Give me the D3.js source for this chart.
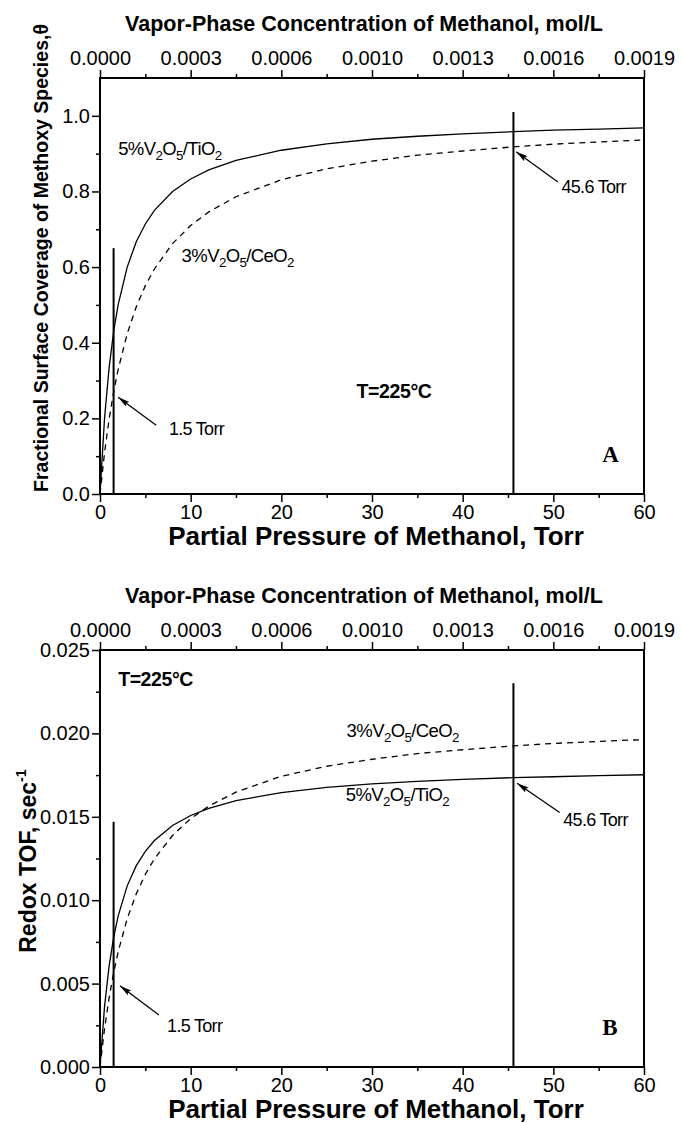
<!DOCTYPE html>
<html>
<head>
<meta charset="utf-8">
<script src="https://cdn.jsdelivr.net/npm/d3@7"></script>
<style>
  body { margin: 0; background: #fff; }
  svg { display: block; font-family: "Liberation Sans", Arial, sans-serif; }
</style>
</head>
<body>
<div id="chart"></div>
<script>
// values
const pressureTorr = [0, 0.5, 1, 1.5, 2, 3, 4, 5, 6, 8, 10, 12, 15, 20, 25, 30, 35, 40, 45.6, 50, 55, 60];
const coverageTiO2 = [0, 0.200, 0.333, 0.429, 0.500, 0.600, 0.667, 0.714, 0.750, 0.800, 0.833, 0.857, 0.882, 0.909, 0.926, 0.938, 0.946, 0.952, 0.958, 0.962, 0.965, 0.968];
const coverageCeO2 = [0, 0.109, 0.197, 0.269, 0.329, 0.424, 0.495, 0.551, 0.595, 0.662, 0.710, 0.746, 0.786, 0.831, 0.860, 0.880, 0.896, 0.907, 0.918, 0.925, 0.931, 0.936];
const tofTiO2 = [0, 0.00362, 0.00603, 0.00776, 0.00905, 0.01086, 0.01207, 0.01293, 0.01358, 0.01448, 0.01508, 0.01551, 0.01597, 0.01645, 0.01676, 0.01697, 0.01712, 0.01724, 0.01735, 0.01740, 0.01747, 0.01752];
const tofCeO2 = [0, 0.00229, 0.00413, 0.00564, 0.00690, 0.00889, 0.01038, 0.01155, 0.01248, 0.01388, 0.01489, 0.01564, 0.01648, 0.01743, 0.01803, 0.01845, 0.01879, 0.01902, 0.01925, 0.01940, 0.01952, 0.01963];

const pressureTicks = [0, 10, 20, 30, 40, 50, 60];
const pressureMinorTicks = [5, 15, 25, 35, 45, 55];
const concentrationLabels = ["0.0000", "0.0003", "0.0006", "0.0010", "0.0013", "0.0016", "0.0019"];
const coverageTicks = [0, 0.2, 0.4, 0.6, 0.8, 1.0];
const coverageMinorTicks = [0.1, 0.3, 0.5, 0.7, 0.9];
const tofTicks = [0, 0.005, 0.010, 0.015, 0.020, 0.025];
const tofMinorTicks = [0.0025, 0.0075, 0.0125, 0.0175, 0.0225];

const markerPressures = [1.5, 45.6];
const markerTopsCoverage = [0.65, 1.01];
const markerTopsTof = [0.0147, 0.023];

const width = 682, height = 1123;
const svg = d3.select("#chart").append("svg")
    .attr("width", width)
    .attr("height", height);

svg.append("defs").append("marker")
    .attr("id", "arrow")
    .attr("viewBox", "0 0 12 6")
    .attr("refX", 12).attr("refY", 3)
    .attr("markerWidth", 12).attr("markerHeight", 6)
    .attr("markerUnits", "userSpaceOnUse")
    .attr("orient", "auto")
    .append("path")
    .attr("d", "M0,0 L12,3 L0,6 L2,3 Z")
    .attr("fill", "#000");

const x = d3.scaleLinear().domain([0, 60]).range([100, 644]);

// writes "5%V_2O_5/TiO_2" with subscripts
function chemLabel(g, str, px, py, size) {
    const t = g.append("text").attr("x", px).attr("y", py)
        .attr("font-size", size).attr("letter-spacing", "-0.6px");
    const parts = str.split(/(_.)/).filter(s => s.length);
    let down = false;
    parts.forEach(s => {
        if (s[0] === "_") {
            t.append("tspan").attr("dy", down ? 0 : 5).attr("font-size", size * 0.72).text(s[1]);
            down = true;
        } else {
            t.append("tspan").attr("dy", down ? -5 : 0).text(s);
            down = false;
        }
    });
}

function drawPanel(p) {
    const y = d3.scaleLinear().domain(p.yDomain).range([p.bottom, p.top]);
    const g = svg.append("g");

    // axes: minor then major ticks
    const minorB = g.append("g").attr("transform", `translate(0,${p.bottom})`)
        .call(d3.axisBottom(x).tickValues(pressureMinorTicks).tickSize(4).tickFormat(""));
    const majorB = g.append("g").attr("transform", `translate(0,${p.bottom})`)
        .call(d3.axisBottom(x).tickValues(pressureTicks).tickSize(8).tickPadding(3).tickFormat(d3.format("d")));
    const minorT = g.append("g").attr("transform", `translate(0,${p.top})`)
        .call(d3.axisTop(x).tickValues(pressureMinorTicks).tickSize(4).tickFormat(""));
    const majorT = g.append("g").attr("transform", `translate(0,${p.top})`)
        .call(d3.axisTop(x).tickValues(pressureTicks).tickSize(8).tickPadding(5)
            .tickFormat((d, i) => concentrationLabels[i]));
    const minorL = g.append("g").attr("transform", `translate(${x(0)},0)`)
        .call(d3.axisLeft(y).tickValues(p.yMinor).tickSize(4).tickFormat(""));
    const majorL = g.append("g").attr("transform", `translate(${x(0)},0)`)
        .call(d3.axisLeft(y).tickValues(p.yTicks).tickSize(8).tickPadding(2).tickFormat(d3.format(p.yFormat)));

    [minorB, majorB, minorT, majorT, minorL, majorL].forEach(a => {
        a.select(".domain").remove();
        a.selectAll("line").attr("stroke", "#000").attr("stroke-width", 1.5);
        a.selectAll("text").attr("font-size", 20).attr("fill", "#000")
            .attr("font-family", "'Liberation Sans', Arial, sans-serif");
    });

    // frame
    g.append("rect")
        .attr("x", x(0)).attr("y", p.top)
        .attr("width", x(60) - x(0)).attr("height", p.bottom - p.top)
        .attr("fill", "none").attr("stroke", "#000").attr("stroke-width", 2);

    // curves
    const line = d3.line().x(d => x(d[0])).y(d => y(d[1]));
    g.append("path")
        .datum(pressureTorr.map((v, i) => [v, p.solid[i]]))
        .attr("d", line).attr("fill", "none").attr("stroke", "#000").attr("stroke-width", 1.3);
    g.append("path")
        .datum(pressureTorr.map((v, i) => [v, p.dashed[i]]))
        .attr("d", line).attr("fill", "none").attr("stroke", "#000").attr("stroke-width", 1.3)
        .attr("stroke-dasharray", "6,5");

    // vertical markers at 1.5 and 45.6 Torr
    g.selectAll("line.marker")
        .data(markerPressures)
        .enter().append("line")
        .attr("class", "marker")
        .attr("x1", d => x(d)).attr("x2", d => x(d))
        .attr("y1", y(0)).attr("y2", (d, i) => y(p.markerTops[i]))
        .attr("stroke", "#000").attr("stroke-width", 2);

    // arrows + labels
    p.arrows.forEach(a => {
        g.append("line")
            .attr("x1", x(a.from[0])).attr("y1", y(a.from[1]))
            .attr("x2", x(a.to[0])).attr("y2", y(a.to[1]))
            .attr("stroke", "#000").attr("stroke-width", 1.3)
            .attr("marker-end", "url(#arrow)");
        g.append("text")
            .attr("x", x(a.label[0])).attr("y", y(a.label[1]))
            .attr("font-size", 18).attr("letter-spacing", "-0.7px")
            .text(a.text);
    });

    p.chem.forEach(c => chemLabel(g, c.text, x(c.at[0]), y(c.at[1]), 18.5));

    g.append("text")
        .attr("x", x(p.temp[0])).attr("y", y(p.temp[1]))
        .attr("font-size", 19.5).attr("font-weight", "bold").attr("letter-spacing", "-0.4px")
        .text("T=225\u00B0C");

    g.append("text")
        .attr("x", x(55.4)).attr("y", y(p.letterY))
        .attr("font-family", "'Liberation Serif', 'Times New Roman', serif")
        .attr("font-size", 23).attr("font-weight", "bold")
        .text(p.letter);

    // titles
    g.append("text")
        .attr("x", 364).attr("y", p.top - 47)
        .attr("text-anchor", "middle")
        .attr("font-size", 21.5).attr("font-weight", "bold")
        .text("Vapor-Phase Concentration of Methanol, mol/L");
    g.append("text")
        .attr("x", 376).attr("y", p.bottom + 51)
        .attr("text-anchor", "middle")
        .attr("font-size", 26).attr("font-weight", "bold")
        .text("Partial Pressure of Methanol, Torr");

    const yt = g.append("text")
        .attr("transform", `translate(${p.yTitleX},${p.yTitleY}) rotate(-90)`)
        .attr("text-anchor", "middle")
        .attr("font-size", p.yTitleSize).attr("font-weight", "bold");
    yt.append("tspan").text(p.yTitle);
    if (p.yTitleSup) {
        yt.append("tspan").attr("dy", -10).attr("font-size", p.yTitleSize * 0.62).text(p.yTitleSup);
    }
}

drawPanel({
    top: 78, bottom: 494,
    yDomain: [0, 1.1],
    yTicks: coverageTicks, yMinor: coverageMinorTicks, yFormat: ".1f",
    solid: coverageTiO2, dashed: coverageCeO2,
    markerTops: markerTopsCoverage,
    arrows: [
        { from: [6.2, 0.182], to: [2.0, 0.256], label: [7.6, 0.156], text: "1.5 Torr" },
        { from: [50.5, 0.825], to: [45.9, 0.905], label: [50.9, 0.796], text: "45.6 Torr" }
    ],
    chem: [
        { text: "5%V_2O_5/TiO_2", at: [2.0, 0.896] },
        { text: "3%V_2O_5/CeO_2", at: [9.0, 0.613] }
    ],
    temp: [28.3, 0.254],
    letter: "A", letterY: 0.085,
    yTitle: "Fractional Surface Coverage of Methoxy Species,\u03B8",
    yTitleSize: 19.5, yTitleX: 48, yTitleY: 258
});

drawPanel({
    top: 650, bottom: 1067,
    yDomain: [0, 0.025],
    yTicks: tofTicks, yMinor: tofMinorTicks, yFormat: ".3f",
    solid: tofTiO2, dashed: tofCeO2,
    markerTops: markerTopsTof,
    arrows: [
        { from: [6.5, 0.00312], to: [2.2, 0.00487], label: [7.4, 0.0021], text: "1.5 Torr" },
        { from: [50.7, 0.01526], to: [46.0, 0.01701], label: [51.1, 0.01442], text: "45.6 Torr" }
    ],
    chem: [
        { text: "3%V_2O_5/CeO_2", at: [27.2, 0.01977] },
        { text: "5%V_2O_5/TiO_2", at: [27.1, 0.01593] }
    ],
    temp: [2.0, 0.02284],
    letter: "B", letterY: 0.00192,
    yTitle: "Redox TOF, sec", yTitleSup: "-1",
    yTitleSize: 23, yTitleX: 36, yTitleY: 861
});
</script>
</body>
</html>
